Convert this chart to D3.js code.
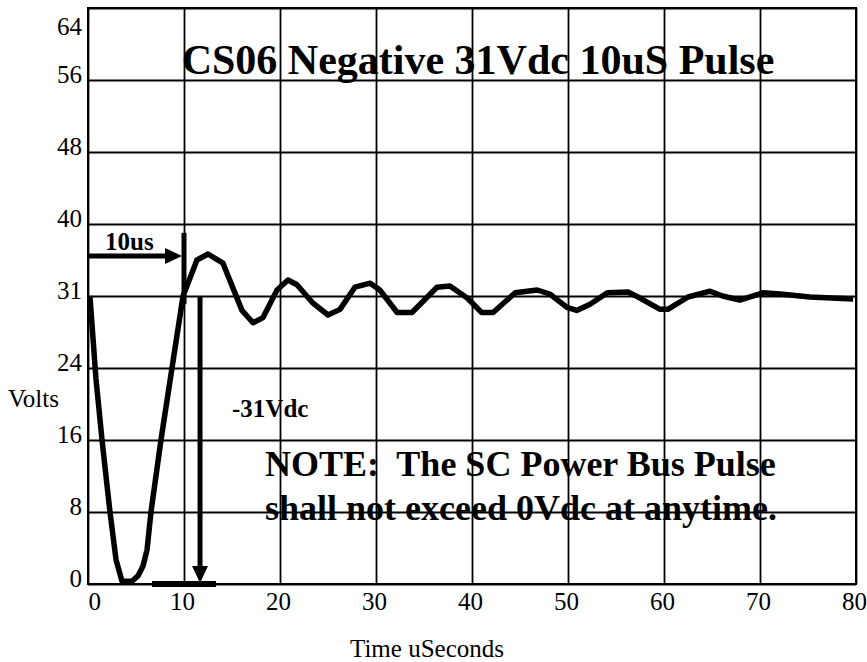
<!DOCTYPE html>
<html>
<head>
<meta charset="utf-8">
<script src="https://cdn.jsdelivr.net/npm/d3@7"></script>
<style>
  body { margin: 0; background: #fff; }
  svg text { font-family: "Liberation Serif", "Times New Roman", serif; fill: #000; }
</style>
</head>
<body>
<div id="chart"></div>
<script>
// CS06 pulse chart

// Data
var xTicks = [0, 10, 20, 30, 40, 50, 60, 70, 80];
var yTicks = [0, 8, 16, 24, 31, 40, 48, 56, 64];

var timeUs = [0.2, 0.83, 1.46, 2.29, 2.92, 3.54, 4.58, 5.2, 5.73, 6.15, 6.56, 7.6, 8.75, 9.9,
  11.35, 12.5, 14.06, 16.04, 17.19, 18.23, 19.69, 20.83, 21.77, 23.44, 25.0, 26.25,
  27.8, 29.4, 30.4, 32.2, 33.75, 36.35, 37.7, 39.5, 41.0, 42.2, 44.5, 46.8, 48.1,
  49.9, 50.9, 52.3, 54.1, 56.25, 57.5, 59.6, 60.4, 62.5, 64.8, 66.1, 67.9, 70.3,
  72.1, 75.2, 79.7];
var volts = [31, 22.8, 16, 8, 2.7, 0.3, 0.3, 0.9, 2.0, 3.8, 8, 16, 24, 31,
  35.5, 36.25, 35.1, 29.6, 28.4, 28.9, 31.75, 33.0, 32.4, 30.3, 29.15, 29.7,
  32.1, 32.6, 31.75, 29.4, 29.4, 32.1, 32.25, 30.8, 29.4, 29.4, 31.4, 31.75, 31.25,
  29.9, 29.6, 30.2, 31.4, 31.5, 30.8, 29.7, 29.7, 30.9, 31.6, 31.0, 30.6, 31.4,
  31.25, 30.9, 30.7];

// annotations (in chart units)
var widthArrow = { t0: 0, t1: 10, v: 36 };          // "10us" arrow
var widthMark = { t: 10, v0: 30.2, v1: 38.9 };      // vertical marker at 10us
var dropArrow = { t: 11.67, v0: 31, v1: 0 };        // "-31Vdc" arrow
var floorBar = { t0: 6.67, t1: 13.33, v: 0 };       // bar at 0V

var svgWidth = 867, svgHeight = 662;
var plotLeft = 88, plotRight = 856, plotTop = 8, plotBottom = 584;

var svg = d3.select('#chart').append('svg')
    .attr('width', svgWidth)
    .attr('height', svgHeight);

var xScale = d3.scaleLinear()
    .domain([0, 80])
    .range([plotLeft, plotRight]);

// y labels are evenly spaced, with 31 standing in the 32 slot
var step = (plotBottom - plotTop) / (yTicks.length - 1);
var yScale = d3.scaleLinear()
    .domain(yTicks)
    .range(yTicks.map((d, i) => plotBottom - i * step));

// Grid + axes
var xAxis = d3.axisBottom(xScale)
    .tickValues(xTicks)
    .tickSize(-(plotBottom - plotTop))
    .tickPadding(0);

var yAxis = d3.axisLeft(yScale)
    .tickValues(yTicks)
    .tickSize(-(plotRight - plotLeft))
    .tickPadding(0);

var gx = svg.append('g')
    .attr('transform', 'translate(0,' + plotBottom + ')')
    .call(xAxis);

var gy = svg.append('g')
    .attr('transform', 'translate(' + plotLeft + ',0)')
    .call(yAxis);

svg.selectAll('.domain').remove();
svg.selectAll('.tick line')
    .attr('stroke', '#000')
    .attr('stroke-width', 1.8);

gx.selectAll('text')
    .attr('y', 26)
    .attr('dy', 0)
    .attr('x', -2)
    .style('font-size', '25px');
gx.selectAll('text').filter(d => d === 0)
    .attr('x', 0)
    .attr('text-anchor', 'start');

gy.selectAll('text')
    .attr('x', -6)
    .attr('dy', 2)
    .style('font-size', '25px');
gy.selectAll('text').filter(d => d === 64)
    .attr('dy', 26);

// plot border
svg.append('rect')
    .attr('x', plotLeft)
    .attr('y', plotTop)
    .attr('width', plotRight - plotLeft)
    .attr('height', plotBottom - plotTop)
    .attr('fill', 'none')
    .attr('stroke', '#000')
    .attr('stroke-width', 2);

// Titles
svg.append('text')
    .attr('x', 478)
    .attr('y', 74)
    .attr('text-anchor', 'middle')
    .style('font-size', '42px')
    .style('font-weight', 'bold')
    .text('CS06 Negative 31Vdc 10uS Pulse');

svg.append('text')
    .attr('x', 8)
    .attr('y', 407)
    .style('font-size', '25px')
    .text('Volts');

svg.append('text')
    .attr('x', 350)
    .attr('y', 657)
    .style('font-size', '25px')
    .text('Time uSeconds');

// Waveform
var line = d3.line()
    .x((d, i) => xScale(timeUs[i]))
    .y(d => yScale(d));

svg.append('path')
    .datum(volts)
    .attr('d', line)
    .attr('fill', 'none')
    .attr('stroke', '#000')
    .attr('stroke-width', 5.5)
    .attr('stroke-linejoin', 'round');

// Annotations
var ann = svg.append('g');

ann.append('line')
    .attr('x1', xScale(widthArrow.t0))
    .attr('x2', xScale(widthArrow.t1) - 14)
    .attr('y1', yScale(widthArrow.v))
    .attr('y2', yScale(widthArrow.v))
    .attr('stroke', '#000')
    .attr('stroke-width', 5);

ann.append('path')
    .attr('d', function() {
        var tx = xScale(widthArrow.t1) - 2, ty = yScale(widthArrow.v);
        return 'M' + tx + ',' + ty + 'L' + (tx - 17) + ',' + (ty - 8) + 'L' + (tx - 17) + ',' + (ty + 8) + 'Z';
    })
    .attr('fill', '#000');

ann.append('line')
    .attr('x1', xScale(widthMark.t))
    .attr('x2', xScale(widthMark.t))
    .attr('y1', yScale(widthMark.v0))
    .attr('y2', yScale(widthMark.v1))
    .attr('stroke', '#000')
    .attr('stroke-width', 5);

ann.append('line')
    .attr('x1', xScale(dropArrow.t))
    .attr('x2', xScale(dropArrow.t))
    .attr('y1', yScale(dropArrow.v0))
    .attr('y2', yScale(dropArrow.v1) - 14)
    .attr('stroke', '#000')
    .attr('stroke-width', 5);

ann.append('path')
    .attr('d', function() {
        var tx = xScale(dropArrow.t), ty = yScale(dropArrow.v1) - 1;
        return 'M' + tx + ',' + ty + 'L' + (tx - 8) + ',' + (ty - 17) + 'L' + (tx + 8) + ',' + (ty - 17) + 'Z';
    })
    .attr('fill', '#000');

ann.append('line')
    .attr('x1', xScale(floorBar.t0))
    .attr('x2', xScale(floorBar.t1))
    .attr('y1', yScale(floorBar.v))
    .attr('y2', yScale(floorBar.v))
    .attr('stroke', '#000')
    .attr('stroke-width', 6);

ann.append('text')
    .attr('x', 105)
    .attr('y', 250)
    .style('font-size', '25px')
    .style('font-weight', 'bold')
    .text('10us');

ann.append('text')
    .attr('x', 232)
    .attr('y', 417)
    .style('font-size', '25px')
    .style('font-weight', 'bold')
    .text('-31Vdc');

var note = ann.append('text')
    .style('font-size', '36px')
    .style('font-weight', 'bold')
    .style('white-space', 'pre');

note.append('tspan')
    .attr('x', 265)
    .attr('y', 476)
    .text('NOTE:  The SC Power Bus Pulse');

note.append('tspan')
    .attr('x', 265)
    .attr('y', 520)
    .text('shall not exceed 0Vdc at anytime.');
</script>
</body>
</html>
